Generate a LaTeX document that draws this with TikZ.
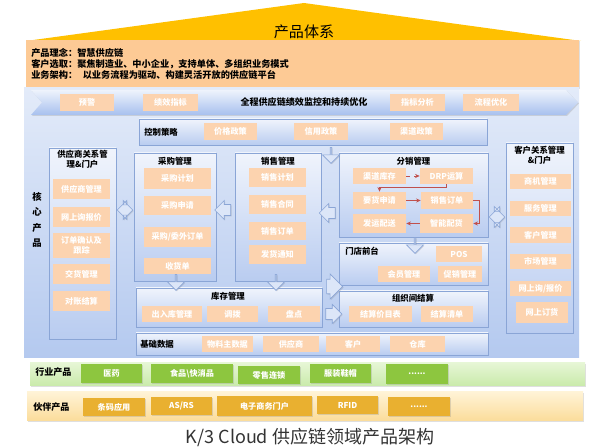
\documentclass[tikz,border=0pt]{standalone}
\usepackage{fontspec}
\setmainfont{Noto Sans CJK SC}
\usetikzlibrary{shapes.arrows,arrows.meta,shadows}

\definecolor{roof}{HTML}{FFC000}
\definecolor{peachbg}{HTML}{FDCA95}
\definecolor{peach}{HTML}{FCD3AF}
\definecolor{paneltop}{HTML}{E3EBF9}
\definecolor{panelbot}{HTML}{B4C9EF}
\definecolor{boxtop}{HTML}{F0F4FC}
\definecolor{boxbot}{HTML}{B9CCF0}
\definecolor{boxline}{HTML}{8AA5D6}
\definecolor{bandtop}{HTML}{EEF3FC}
\definecolor{bandbot}{HTML}{A7C0EE}
\definecolor{greentop}{HTML}{E6F6D5}
\definecolor{greenbot}{HTML}{C9EAAA}
\definecolor{greenitem}{HTML}{8DC63F}
\definecolor{yeltop}{HTML}{FFF3D6}
\definecolor{yelbot}{HTML}{FBDC9A}
\definecolor{yelitem}{HTML}{E9B030}
\definecolor{redln}{HTML}{C0504D}
\definecolor{arrfill}{HTML}{DCE6F8}
\definecolor{captxt}{HTML}{333333}

\newcommand{\fsitem}{\fontsize{6.1}{7.3}\selectfont}
\newcommand{\fsttl}{\fontsize{6.3}{7.5}\selectfont}
\newcommand{\mybox}[7]{\node[#1, minimum width={(#5-#3)*0.75pt}, minimum height={(#6-#4)*0.75pt}] (#2) at ({(#3+#5)/2},{(#4+#6)/2}) {#7};}

\begin{document}
\begin{tikzpicture}[x=0.75pt,y=-0.75pt,
  shd/.style={drop shadow={shadow xshift=0.7pt, shadow yshift=-0.7pt, opacity=0.25}},
  obox/.style={fill=peachbg, inner sep=0pt, shd},
  bigpanel/.style={top color=paneltop, bottom color=panelbot, inner sep=0pt},
  panel/.style={draw=boxline, line width=0.6pt, top color=boxtop, bottom color=boxbot, inner sep=0pt, shd},
  item/.style={fill=peach, text=white, font=\bfseries\fsitem, inner sep=0pt, align=center},
  ttl/.style={font=\bfseries\fsttl, text=black, align=center, inner sep=0pt},
  gband/.style={top color=greentop, bottom color=greenbot, inner sep=0pt, shd},
  yband/.style={top color=yeltop, bottom color=yelbot, inner sep=0pt, shd},
  gitem/.style={fill=greenitem, text=white, font=\bfseries\fsitem, inner sep=0pt, shd},
  yitem/.style={fill=yelitem, text=white, font=\bfseries\fsitem, inner sep=0pt, shd},
  blkarrow/.style={single arrow, draw=boxline, fill=arrfill, line width=0.5pt, inner xsep=0pt, inner ysep=3.4pt, single arrow head extend=2.6pt, minimum width={#1*0.75pt}, minimum height=12pt, shd},
  dblarrow/.style={double arrow, draw=boxline, fill=arrfill, line width=0.5pt, inner xsep=0pt, inner ysep=3pt, double arrow head extend=2.8pt, minimum width={#1*0.75pt}, minimum height=11.6pt, shd},
  redarr/.style={draw=redln, line width=0.6pt, -{Stealth[length=3.5pt,width=3pt]}}
]
\useasboundingbox (0,0) rectangle (600,448);

% roof and concept box
\fill[roof] (26,41) -- (304,3) -- (581,41) -- cycle;
\node[font=\fontsize{11.3}{13}\selectfont] (title) at (304,32) {产品体系};
\mybox{obox}{concept}{26}{40}{579}{88}{}
\node[anchor=west, align=left, inner sep=0pt, font=\bfseries\fontsize{6.9}{8.4}\selectfont] (concepttxt) at (31,64)
  {产品理念：智慧供应链\\客户选取：聚焦制造业、中小企业，支持单体、多组织业务模式\\业务架构：\hspace{0.6em}以业务流程为驱动、构建灵活开放的供应链平台};

% core panel
\mybox{bigpanel}{core}{24}{88}{579}{358}{}
\path[top color=bandtop, bottom color=bandbot, shd] (31,90) -- (566,90) -- (578,102.5) -- (566,115) -- (31,115) -- (42,102.5) -- cycle;
\mybox{item}{yj}{60}{94}{114}{111}{预警}
\mybox{item}{jxzb}{143}{94}{198}{111}{绩效指标}
\node[font=\bfseries\fontsize{6.8}{8}\selectfont, inner sep=0pt] (bandtxt) at (304,102.5) {全程供应链绩效监控和持续优化};
\mybox{item}{zbfx}{390}{94}{445}{111}{指标分析}
\mybox{item}{lcyh}{463}{94}{519}{111}{流程优化}

\node[font=\bfseries\fontsize{7}{11.5}\selectfont, align=center, inner sep=0pt] (corelbl) at (37,220) {核\\心\\产\\品};

% control strategy
\mybox{panel}{kzcl}{139}{119}{487}{145}{}
\node[ttl, anchor=west] (kzcllbl) at (144,132) {控制策略};
\mybox{item}{jgzc}{204}{123}{257}{140}{价格政策}
\mybox{item}{xyzc}{294}{123}{348}{140}{信用政策}
\mybox{item}{qdzc}{390}{123}{443}{140}{渠道政策}

% supplier
\mybox{panel}{gys}{49}{148}{116}{339}{}
\node[ttl] (gysttl) at (82.5,159.5) {供应商关系管\\理\&门户};
\mybox{item}{gysgl}{53}{179}{110}{199}{供应商管理}
\mybox{item}{wsxbj}{53}{207}{110}{227}{网上询报价}
\mybox{item}{ddqr}{53}{233}{110}{258}{订单确认及\\跟踪}
\mybox{item}{jhgl}{53}{264}{110}{284}{交货管理}
\mybox{item}{dzjs}{53}{291}{110}{311}{对账结算}

% purchase
\mybox{panel}{cg}{134}{153}{216}{281}{}
\node[ttl] (cgttl) at (175,161) {采购管理};
\mybox{item}{cgjh}{144}{168}{211}{189}{采购计划}
\mybox{item}{cgsq}{144}{196}{211}{215}{采购申请}
\mybox{item}{cgdd}{144}{227}{211}{247}{采购/委外订单}
\mybox{item}{shd}{144}{258}{211}{274}{收货单}

% sales
\mybox{panel}{xs}{235}{153}{321}{281}{}
\node[ttl] (xsttl) at (278,161) {销售管理};
\mybox{item}{xsjh}{249}{168}{306}{187}{销售计划}
\mybox{item}{xsht}{249}{195}{306}{214}{销售合同}
\mybox{item}{xsdd}{249}{222}{306}{240}{销售订单}
\mybox{item}{fhtz}{249}{245}{306}{264}{发货通知}

% distribution
\mybox{panel}{fx}{339}{153}{488}{237}{}
\node[ttl] (fxttl) at (413.5,161) {分销管理};
\mybox{item}{qdkc}{353}{168}{406}{184}{渠道库存}
\mybox{item}{drp}{420}{168}{473}{184}{DRP运算}
\mybox{item}{yhsq}{353}{192}{406}{209}{要货申请}
\mybox{item}{fxdd}{421}{192}{473}{209}{销售订单}
\mybox{item}{fyps}{353}{214}{406}{233}{发运配送}
\mybox{item}{znph}{420}{214}{473}{233}{智能配货}
\draw[redarr, dashed] (qdkc) -- (drp);
\draw[redarr] (drp.south) -- ++(0,3.5) -| (yhsq.north);
\draw[redarr] (yhsq) -- (fxdd);
\draw[redarr] (fxdd.east) -- ++(6,0) |- (znph.east);
\draw[redarr] (znph) -- (fyps);

% store
\mybox{panel}{md}{339}{243}{488}{285}{}
\node[ttl, anchor=west] (mdlbl) at (345,251) {门店前台};
\mybox{item}{pos}{436}{246}{482}{262}{POS}
\mybox{item}{hygl}{378}{266}{430}{282}{会员管理}
\mybox{item}{cxgl}{438}{266}{482}{282}{促销管理}

% stock
\mybox{panel}{kc}{136}{288}{322}{327}{}
\node[ttl] (kcttl) at (228,296) {库存管理};
\mybox{item}{crk}{142}{306}{202}{322}{出入库管理}
\mybox{item}{db}{207}{306}{258}{322}{调拨}
\mybox{item}{pd}{268}{306}{320}{322}{盘点}

% org settlement
\mybox{panel}{zz}{339}{291}{488}{327}{}
\node[ttl] (zzttl) at (413,298) {组织间结算};
\mybox{item}{jsjm}{349}{306}{412}{322}{结算价目表}
\mybox{item}{jsqd}{421}{306}{473}{322}{结算清单}

% basic data
\mybox{panel}{jc}{136}{333}{488}{355}{}
\node[ttl, anchor=west] (jclbl) at (140,344) {基础数据};
\mybox{item}{wl}{202}{336}{253}{352}{物料主数据}
\mybox{item}{gy}{263}{336}{319}{352}{供应商}
\mybox{item}{kh}{326}{336}{380}{352}{客户}
\mybox{item}{ck}{390}{336}{445}{352}{仓库}

% customer
\mybox{panel}{khgx}{506}{143}{573}{333}{}
\node[ttl] (khttl) at (539.5,155.5) {客户关系管理\\\&门户};
\mybox{item}{sjgl}{510}{174}{571}{189}{商机管理}
\mybox{item}{fwgl}{510}{201}{571}{216}{服务管理}
\mybox{item}{khgl}{510}{227}{571}{243}{客户管理}
\mybox{item}{scgl}{510}{254}{571}{269}{市场管理}
\mybox{item}{wsbj}{510}{281}{571}{296}{网上询/报价}
\mybox{item}{wsdh}{516}{302}{568}{323}{网上订货}

% block arrows
\node[dblarrow=19] (a1) at (125,210) {};
\node[blkarrow=19, shape border rotate=180] (a2) at (225.5,210) {};
\node[blkarrow=19, shape border rotate=180] (a3) at (330,213) {};
\node[dblarrow=21] (a4) at (497,217) {};
\node[blkarrow=17, shape border rotate=270] (a5) at (331,155) {};
\node[blkarrow=17, shape border rotate=270] (a6) at (176,282) {};
\node[blkarrow=17, shape border rotate=270] (a7) at (276,282) {};
\node[blkarrow=17, shape border rotate=270] (a8) at (415,245) {};
\node[blkarrow=25, shape border rotate=-43] (a9) at (331,286.5) {};
\node[blkarrow=19] (a10) at (331,314) {};

% industry products
\mybox{gband}{hy}{30}{363}{585}{386}{}
\node[ttl, anchor=west, font=\bfseries\fontsize{6.8}{8}\selectfont] (hylbl) at (35,372) {行业产品};
\mybox{gitem}{yy}{81}{364}{142}{383}{医药}
\mybox{gitem}{sp}{151}{364}{233}{383}{食品\textbackslash 快消品}
\mybox{gitem}{ls}{238}{366}{300}{384}{零售连锁}
\mybox{gitem}{fz}{310}{364}{371}{383}{服装鞋帽}
\mybox{gitem}{hymore}{386}{364}{448}{384}{......}

% partner products
\mybox{yband}{hb}{27}{392}{583}{421}{}
\node[ttl, anchor=west, font=\bfseries\fontsize{6.8}{8}\selectfont] (hblbl) at (33,407) {伙伴产品};
\mybox{yitem}{tm}{83}{398}{145}{416}{条码应用}
\mybox{yitem}{asrs}{151}{397}{212}{415}{AS/RS}
\mybox{yitem}{dzsw}{217}{396}{312}{416}{电子商务门户}
\mybox{yitem}{rfid}{317}{396}{378}{414}{RFID}
\mybox{yitem}{hbmore}{388}{397}{450}{416}{......}

\node[text=captxt, font=\fontsize{13.5}{16}\selectfont] (caption) at (310,437) {K/3 Cloud 供应链领域产品架构};
\end{tikzpicture}
\end{document}
